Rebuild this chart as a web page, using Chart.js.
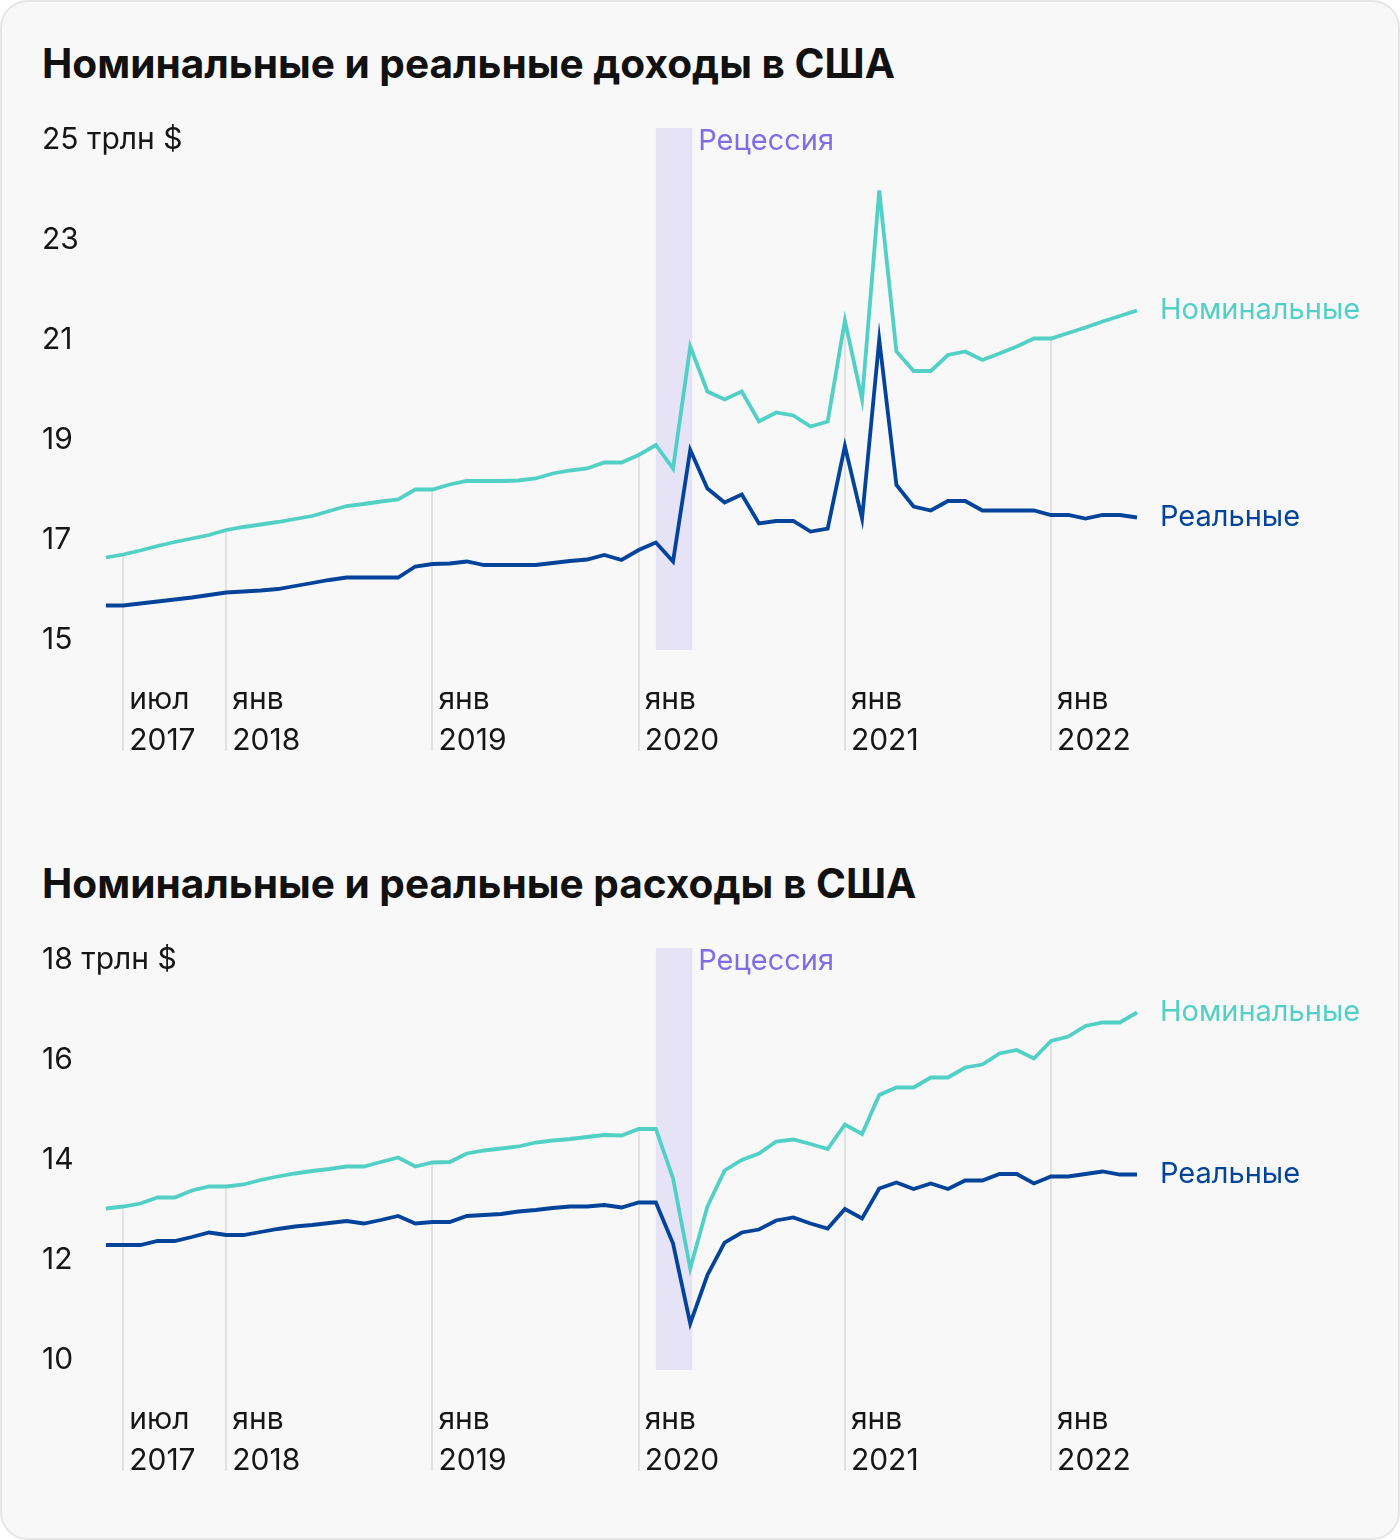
<!DOCTYPE html>
<html lang="ru">
<head>
<meta charset="utf-8">
<script src="https://cdn.jsdelivr.net/npm/chart.js@4.4.1/dist/chart.umd.min.js"></script>
<style>
  html, body { margin:0; padding:0; background:#ffffff; }
  body { width:1400px; height:1540px; position:relative; overflow:hidden; font-family: Inter, "Noto Sans", sans-serif; }
  #card { position:absolute; left:0; top:0; width:1396px; height:1536px; border:2px solid #e6e6e6; border-radius:28px; background:#f8f8f8; }
  .title { position:absolute; left:42px; font-weight:700; font-size:40.6px; line-height:48px; color:#111; white-space:nowrap; }
  canvas { position:absolute; left:0; }
</style>
</head>
<body>
<div id="card"></div>
<div class="title" id="t1" style="top:40px;">Номинальные и реальные доходы в США</div>
<div class="title" id="t2" style="top:860px;">Номинальные и реальные расходы в США</div>
<canvas id="c1" width="1400" height="680" style="top:100px;"></canvas>
<canvas id="c2" width="1400" height="580" style="top:920px;"></canvas>
<script>
// ---------- DATA ----------
// months: June 2017 … June 2022 (monthly)
const startYear = 2017, startMonth = 6, monthCount = 61;
const months = [];
for (let i = 0; i < monthCount; i++) {
  const m = (startMonth - 1 + i) % 12 + 1;
  const y = startYear + Math.floor((startMonth - 1 + i) / 12);
  months.push(y + '-' + String(m).padStart(2, '0'));
}
const xTickMonths = ['2017-07', '2018-01', '2019-01', '2020-01', '2021-01', '2022-01'];
const xTickTop    = ['июл', 'янв', 'янв', 'янв', 'янв', 'янв'];
const xTickBottom = ['2017', '2018', '2019', '2020', '2021', '2022'];
const recessionFrom = '2020-02';
const recessionTo = '2020-04';
const recessionLabel = 'Рецессия';
const seriesNames = ['Номинальные', 'Реальные'];

// Income, trillion $
const incomeNominal = [
  16.65, 16.71, 16.79, 16.88, 16.96, 17.03, 17.10, 17.20, 17.26, 17.31,
  17.36, 17.42, 17.48, 17.58, 17.68, 17.72, 17.77, 17.81, 18.01, 18.01,
  18.11, 18.18, 18.18, 18.18, 18.19, 18.23, 18.33, 18.39, 18.43, 18.55,
  18.55, 18.70, 18.90, 18.43, 20.87, 19.97, 19.81, 19.97, 19.37, 19.55,
  19.49, 19.27, 19.37, 21.39, 19.81, 23.99, 20.77, 20.38, 20.38, 20.70,
  20.77, 20.60, 20.73, 20.87, 21.03, 21.03, 21.14, 21.25, 21.37, 21.48,
  21.59
];
const incomeReal = [
  15.69, 15.69, 15.73, 15.77, 15.81, 15.85, 15.90, 15.95, 15.97, 15.99,
  16.02, 16.08, 16.14, 16.20, 16.25, 16.25, 16.25, 16.25, 16.47, 16.52,
  16.53, 16.57, 16.50, 16.50, 16.50, 16.50, 16.54, 16.58, 16.61, 16.70,
  16.60, 16.80, 16.95, 16.57, 18.80, 18.03, 17.75, 17.91, 17.33, 17.38,
  17.38, 17.17, 17.23, 18.88, 17.43, 21.01, 18.10, 17.67, 17.59, 17.78,
  17.78, 17.59, 17.59, 17.59, 17.59, 17.50, 17.50, 17.43, 17.50, 17.50,
  17.45
];
const incomeYTicks = [15, 17, 19, 21, 23, 25];
const incomeYMin = 14.8, incomeYMax = 25.24;

// Spending, trillion $
const spendNominal = [
  13.03, 13.07, 13.13, 13.25, 13.25, 13.39, 13.47, 13.47, 13.51, 13.60,
  13.67, 13.73, 13.78, 13.82, 13.87, 13.87, 13.96, 14.05, 13.87, 13.95,
  13.96, 14.13, 14.19, 14.23, 14.27, 14.35, 14.39, 14.42, 14.46, 14.50,
  14.49, 14.62, 14.62, 13.63, 11.83, 13.07, 13.79, 14.00, 14.13, 14.37,
  14.41, 14.32, 14.22, 14.71, 14.52, 15.30, 15.45, 15.45, 15.65, 15.65,
  15.85, 15.91, 16.13, 16.20, 16.03, 16.38, 16.47, 16.68, 16.75, 16.75,
  16.95
];
const spendReal = [
  12.30, 12.30, 12.30, 12.38, 12.38, 12.46, 12.55, 12.50, 12.50, 12.56,
  12.62, 12.67, 12.70, 12.74, 12.78, 12.73, 12.80, 12.88, 12.73, 12.76,
  12.76, 12.88, 12.90, 12.92, 12.97, 13.00, 13.04, 13.07, 13.07, 13.10,
  13.05, 13.15, 13.15, 12.33, 10.73, 11.70, 12.35, 12.55, 12.61, 12.79,
  12.85, 12.73, 12.63, 13.02, 12.83, 13.43, 13.55, 13.42, 13.53, 13.42,
  13.59, 13.59, 13.72, 13.72, 13.53, 13.67, 13.67, 13.72, 13.77, 13.71,
  13.71
];
const spendYTicks = [10, 12, 14, 16, 18];
const spendYMin = 9.8, spendYMax = 18.24;
const unitLabel = ' трлн $';

// ---------- STYLE ----------
const FONT = 'Inter, "Noto Sans", sans-serif';
const C_NOM = '#52d0c5';
const C_REAL = '#03449a';
const C_BAND = '#e6e3f6';
const C_REC = '#7d6fe3';
const C_GRID = '#e2e2e2';
const C_TEXT = '#161616';

const decor = {
  id: 'decor',
  beforeDatasetsDraw(chart) {
    const { ctx, chartArea, scales: { x, y } } = chart;
    const nom = chart.data.datasets[0].data;
    ctx.save();
    // recession band
    const bx0 = x.getPixelForValue(months.indexOf(recessionFrom));
    const bx1 = x.getPixelForValue(months.indexOf(recessionTo));
    ctx.fillStyle = C_BAND;
    ctx.fillRect(bx0, chartArea.top, bx1 - bx0 + 2, chartArea.bottom - chartArea.top);
    // drop grid lines from the nominal series down through the labels
    ctx.strokeStyle = C_GRID;
    ctx.lineWidth = 2;
    xTickMonths.forEach(mk => {
      const i = months.indexOf(mk);
      const px = Math.round(x.getPixelForValue(i));
      const py = y.getPixelForValue(nom[i]);
      ctx.beginPath();
      ctx.moveTo(px, py);
      ctx.lineTo(px, chartArea.bottom + 101);
      ctx.stroke();
    });
    ctx.restore();
  },
  afterDatasetsDraw(chart) {
    const { ctx, chartArea, scales: { x, y } } = chart;
    ctx.save();
    ctx.font = '29px ' + FONT;
    ctx.textBaseline = 'middle';
    ctx.textAlign = 'left';
    // recession label
    const bx1 = x.getPixelForValue(months.indexOf(recessionTo));
    const ticks = chart.options.scales.y.tickValues;
    ctx.fillStyle = C_REC;
    ctx.fillText(recessionLabel, bx1 + 8, y.getPixelForValue(ticks[ticks.length - 1]) + 1);
    // series end labels
    chart.data.datasets.forEach(ds => {
      const last = ds.data[ds.data.length - 1];
      ctx.fillStyle = ds.borderColor;
      ctx.fillText(ds.label, chartArea.right + 23, y.getPixelForValue(last));
    });
    ctx.restore();
  }
};

function makeChart(id, nomData, realData, yTicks, yMin, yMax) {
  const topTick = yTicks[yTicks.length - 1];
  return new Chart(document.getElementById(id), {
    type: 'line',
    data: {
      labels: months,
      datasets: [
        { label: seriesNames[0], data: nomData, borderColor: C_NOM },
        { label: seriesNames[1], data: realData, borderColor: C_REAL }
      ]
    },
    options: {
      responsive: false,
      animation: false,
      devicePixelRatio: 1,
      layout: { padding: { left: 42, right: 263, top: 28, bottom: 0 } },
      elements: {
        point: { radius: 0 },
        line: { borderWidth: 3.8, tension: 0, borderJoinStyle: 'miter', borderCapStyle: 'butt', fill: false }
      },
      plugins: { legend: { display: false }, tooltip: { enabled: false }, title: { display: false } },
      scales: {
        x: {
          type: 'category',
          offset: false,
          grid: { display: false, drawTicks: false },
          border: { display: false },
          ticks: {
            autoSkip: false, maxRotation: 0, minRotation: 0,
            align: 'start', labelOffset: 6, padding: 30,
            color: C_TEXT,
            font: { family: FONT, size: 30, lineHeight: 1.35 },
            callback: function (val, idx) {
              const k = xTickMonths.indexOf(months[idx]);
              return k >= 0 ? [xTickTop[k], xTickBottom[k]] : '';
            }
          },
          afterFit(s) { s.height = 130; }
        },
        y: {
          min: yMin, max: yMax,
          tickValues: yTicks,
          afterBuildTicks(s) { s.ticks = yTicks.map(v => ({ value: v })); },
          grid: { display: false, drawTicks: false },
          border: { display: false },
          ticks: {
            mirror: true, crossAlign: 'near', padding: -64,
            color: C_TEXT,
            font: { family: FONT, size: 30 },
            callback: v => (v === topTick ? v + unitLabel : String(v))
          },
          afterFit(s) { s.width = 64; }
        }
      }
    },
    plugins: [decor]
  });
}

makeChart('c1', incomeNominal, incomeReal, incomeYTicks, incomeYMin, incomeYMax);
makeChart('c2', spendNominal, spendReal, spendYTicks, spendYMin, spendYMax);
</script>
</body>
</html>
